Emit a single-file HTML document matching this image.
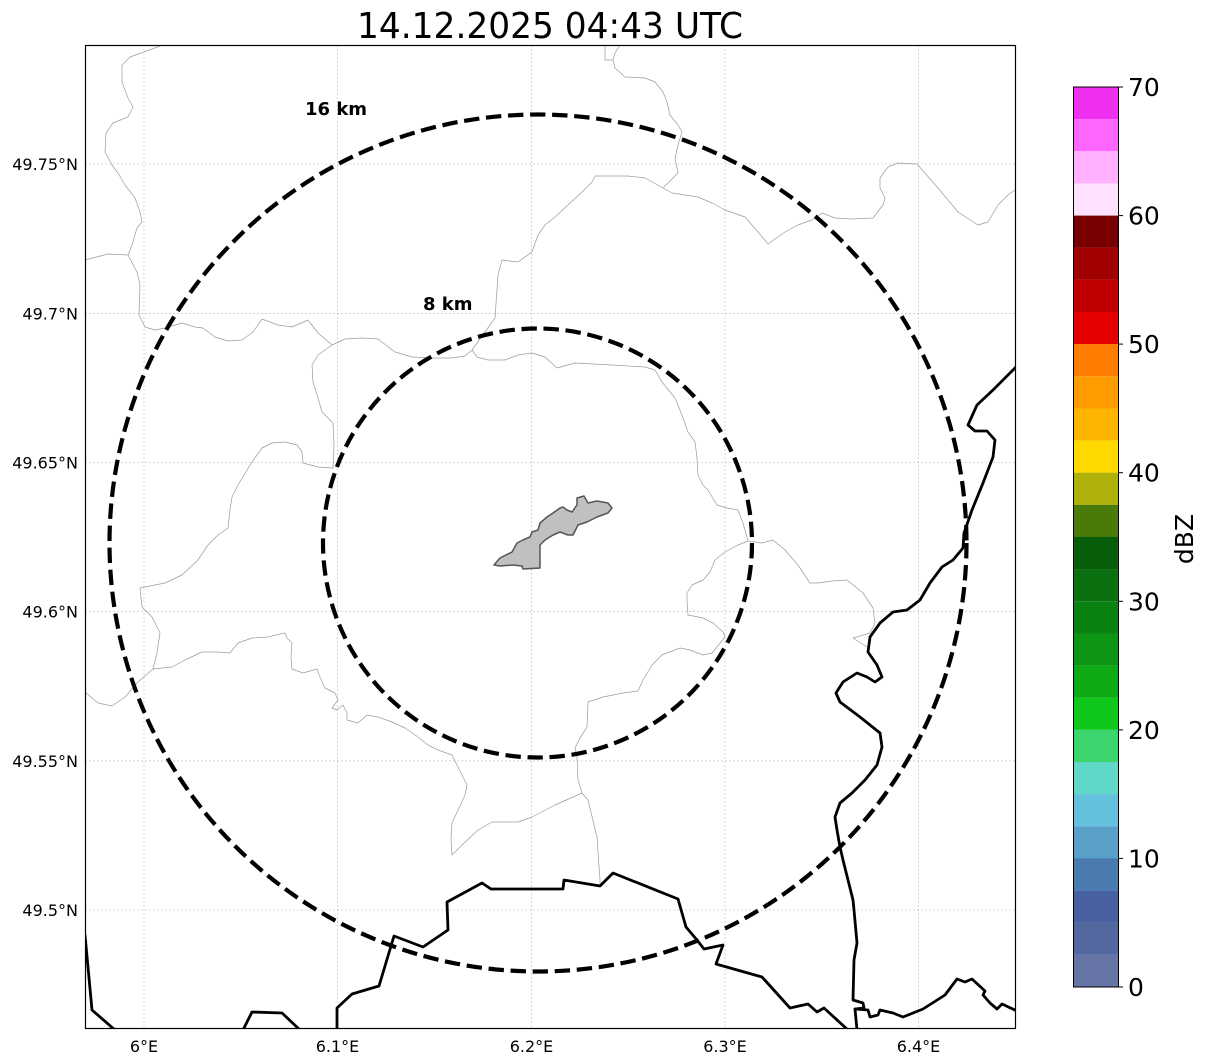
<!DOCTYPE html>
<html><head><meta charset="utf-8"><style>
html,body{margin:0;padding:0;background:#fff;}
svg{display:block;}
text{font-family:"DejaVu Sans","Liberation Sans",sans-serif;fill:#000;}
</style></head><body>
<svg width="1207" height="1064" viewBox="0 0 1207 1064" xmlns="http://www.w3.org/2000/svg">
<defs><clipPath id="ax"><rect x="85" y="45" width="930" height="983"/></clipPath></defs>
<rect width="1207" height="1064" fill="#fff"/>
<g clip-path="url(#ax)">
<g stroke="#b8b8b8" stroke-width="0.6" stroke-dasharray="2,2" fill="none">
<line x1="144" y1="45" x2="144" y2="1028"/><line x1="337.5" y1="45" x2="337.5" y2="1028"/><line x1="531.5" y1="45" x2="531.5" y2="1028"/><line x1="725" y1="45" x2="725" y2="1028"/><line x1="918.5" y1="45" x2="918.5" y2="1028"/>
<line x1="85" y1="164" x2="1015" y2="164"/><line x1="85" y1="313.3" x2="1015" y2="313.3"/><line x1="85" y1="462.5" x2="1015" y2="462.5"/><line x1="85" y1="611.7" x2="1015" y2="611.7"/><line x1="85" y1="760.9" x2="1015" y2="760.9"/><line x1="85" y1="910" x2="1015" y2="910"/>
</g>
<g stroke="#9a9a9a" stroke-width="0.7" fill="none" stroke-linejoin="round">
<polyline points="163,45 130,57 122,65 122,82 128,98 133,107 128,117 113,123 106,133 105,152 112,165 118,173 125,185 135,198 140,212 142,222 137,228 132,245 128,255 137,272 140,285 139,315 145,327 155,330 165,328 182,323 195,327 203,328 215,337 228,341 242,340 253,332 262,319 278,325 292,327 308,320 318,333 332,345"/>
<polyline points="85,260 108,254 128,255"/>
<polyline points="332,345 345,339 362,338 378,339 395,352 412,357 432,358 452,358 465,356 472,350 495,318 498,275 502,260 518,262 532,252 538,235 545,225 555,217 568,205 582,192 592,182 595,176 628,176 645,178 663,188"/>
<polyline points="663,188 678,173 675,158 678,145 682,132 678,125 670,115 667,102 663,92 655,82 645,78 625,77 615,68 613,60 615,53 620,45"/>
<polyline points="605,45 605,60 613,60"/>
<polyline points="663,188 672,193 698,197 712,203 725,210 745,217 758,232 768,244 785,232 798,225 812,220 822,213 835,218 852,219 873,218 883,205 885,198 880,188 880,178 888,167 898,163 917,164 938,188 958,212 978,225 988,222 998,205 1008,195 1015,190"/>
<polyline points="472,350 477,357 488,360 505,360 518,355 532,353 545,357 557,368 575,363 612,365 645,367 655,370 662,382 675,398 682,415 688,432 695,442 697,458 698,475 703,485 708,490 717,505 727,508 738,510 743,523 748,541"/>
<polyline points="332,345 318,355 312,365 313,382 318,398 322,412 333,423 334,445 333,468 318,467 303,463 302,452 297,445 285,442 272,443 262,448 252,462 238,485 232,497 230,510 228,528 218,535 208,545 198,560 182,575 165,583 140,588 142,607 152,617 160,633 157,653 153,669"/>
<polyline points="153,669 138,682 125,697 112,706 98,703 85,692"/>
<polyline points="153,669 172,667 185,660 202,652 218,652 230,653 238,643 252,638 268,637 280,634 285,633 287,638 292,643 291,657 292,669 303,673 317,669 320,677 325,688 335,693 338,700 332,708 337,710 343,705 347,713 347,720 358,723 367,715 378,717 392,722 405,728 418,737 428,745 438,750 452,755 458,767 467,785 465,795 458,810 452,823 451,838 452,855 462,845 478,830 492,822 518,822 532,817 555,805 582,793 588,800 597,837 600,880 600,886"/>
<polyline points="582,793 578,780 577,757 575,748 580,738 587,727 588,702 603,697 623,693 638,691 643,680 652,665 662,655 680,648 690,650 703,655 712,653 725,637 723,632 713,623 703,618 688,615 687,600 687,593 692,585 703,580 710,572 715,560 725,552 738,545 748,541 762,543 773,540 785,550 798,565 810,583 818,583 832,581 847,580 863,593 873,608 875,623 870,633 853,638 867,647"/>
</g>
<g stroke="#000" stroke-width="2.8" fill="none" stroke-linejoin="round" stroke-linecap="round">
<polyline points="85,935 92,1010 115,1030"/>
<polyline points="243,1030 252,1012 282,1013 300,1030"/>
<polyline points="337,1030 337,1008 352,994 379,986 394,936 423,947 448,930 447,902 482,883 491,889 563,889 564,880 600,886 613,873 678,899 686,927 697,940 704,949 723,945 716,964 762,977 790,1008 808,1004 817,1012 824,1008 848,1030"/>
<polyline points="1017,366 1005,378 993,390 977,405 968,425 975,431 987,431 995,440 993,457 983,483 972,510 964,533 963,548 953,560 942,567 930,583 920,600 907,610 893,612 880,623 870,637 868,652 877,665 882,677 875,682 867,677 857,673 843,682 836,693 840,702 860,717 880,733 882,747 877,765 865,780 852,793 840,803 835,817 837,830 840,847 843,860 853,900 854,910 857,943 854,960 853,1000 863,1003 864,1008 855,1009 857,1030"/>
<polyline points="855,1009 868,1010 870,1017 878,1015 880,1010 893,1013 903,1017 913,1013 923,1009 945,995 957,979 965,982 972,979 985,991 983,995 990,1003 997,1009 1002,1004 1017,1011"/>
</g>
<polygon points="494,565 500,558 512,552 517,543 523,540 530,537 532,532 538,530 540,523 547,517 553,513 560,508 563,507 567,510 572,512 577,505 577,498 584,496 588,503 597,501 608,503 612,508 608,513 597,517 587,522 578,525 573,535 568,535 560,532 553,535 545,540 540,545 540,568 523,569 522,566 513,565 500,566" fill="#c0c0c0" stroke="#555" stroke-width="1.5" stroke-linejoin="round"/>
<circle cx="538" cy="543" r="428.5" fill="none" stroke="#000" stroke-width="4.2" stroke-dasharray="15.4,6.7"/>
<circle cx="537.5" cy="543" r="214.5" fill="none" stroke="#000" stroke-width="4.2" stroke-dasharray="15.4,6.7"/>
</g>
<rect x="85.5" y="45.5" width="930" height="983" fill="none" stroke="#000" stroke-width="1.2"/>
<text x="305" y="115" font-size="18" font-weight="bold">16 km</text>
<text x="423" y="310" font-size="18" font-weight="bold">8 km</text>
<text x="550" y="38" font-size="36" text-anchor="middle" textLength="386" lengthAdjust="spacingAndGlyphs">14.12.2025 04:43 UTC</text>
<g font-size="16" text-anchor="end">
<text x="78" y="170">49.75°N</text>
<text x="78" y="319.3">49.7°N</text>
<text x="78" y="468.5">49.65°N</text>
<text x="78" y="617.7">49.6°N</text>
<text x="78" y="766.9">49.55°N</text>
<text x="78" y="916">49.5°N</text>
</g>
<g font-size="16" text-anchor="middle">
<text x="144" y="1052">6°E</text>
<text x="337.5" y="1052">6.1°E</text>
<text x="531.5" y="1052">6.2°E</text>
<text x="725" y="1052">6.3°E</text>
<text x="918.5" y="1052">6.4°E</text>
</g>
<g>
<rect x="1073" y="87" width="45" height="32.2" fill="#f030f0"/>
<rect x="1073" y="119.1" width="45" height="32.2" fill="#ff66ff"/>
<rect x="1073" y="151.3" width="45" height="32.2" fill="#ffb0ff"/>
<rect x="1073" y="183.4" width="45" height="32.2" fill="#ffe0ff"/>
<rect x="1073" y="215.6" width="45" height="32.2" fill="#780000"/>
<rect x="1073" y="247.7" width="45" height="32.2" fill="#a00000"/>
<rect x="1073" y="279.9" width="45" height="32.2" fill="#c00000"/>
<rect x="1073" y="312" width="45" height="32.2" fill="#e40000"/>
<rect x="1073" y="344.1" width="45" height="32.2" fill="#ff7c00"/>
<rect x="1073" y="376.3" width="45" height="32.2" fill="#ff9c00"/>
<rect x="1073" y="408.4" width="45" height="32.2" fill="#ffb400"/>
<rect x="1073" y="440.6" width="45" height="32.2" fill="#ffd800"/>
<rect x="1073" y="472.7" width="45" height="32.2" fill="#b0b00a"/>
<rect x="1073" y="504.9" width="45" height="32.2" fill="#4a7a0a"/>
<rect x="1073" y="537" width="45" height="32.2" fill="#065e0a"/>
<rect x="1073" y="569.1" width="45" height="32.2" fill="#0a7010"/>
<rect x="1073" y="601.3" width="45" height="32.2" fill="#0a8212"/>
<rect x="1073" y="633.4" width="45" height="32.2" fill="#0c9614"/>
<rect x="1073" y="665.6" width="45" height="32.2" fill="#0eaa16"/>
<rect x="1073" y="697.7" width="45" height="32.2" fill="#10c81a"/>
<rect x="1073" y="729.9" width="45" height="32.2" fill="#3cd46c"/>
<rect x="1073" y="762" width="45" height="32.2" fill="#60d8c8"/>
<rect x="1073" y="794.1" width="45" height="32.2" fill="#64c0dc"/>
<rect x="1073" y="826.3" width="45" height="32.2" fill="#58a0c8"/>
<rect x="1073" y="858.4" width="45" height="32.2" fill="#4a7ab0"/>
<rect x="1073" y="890.6" width="45" height="32.2" fill="#4660a0"/>
<rect x="1073" y="922.7" width="45" height="32.2" fill="#5468a0"/>
<rect x="1073" y="954.9" width="45" height="32.1" fill="#6674a6"/>
<rect x="1073.5" y="87" width="45" height="900" fill="none" stroke="#000" stroke-width="1"/>
<g stroke="#000" stroke-width="1">
<line x1="1118" y1="87" x2="1123" y2="87"/><line x1="1118" y1="215.6" x2="1123" y2="215.6"/><line x1="1118" y1="344.1" x2="1123" y2="344.1"/><line x1="1118" y1="472.7" x2="1123" y2="472.7"/><line x1="1118" y1="601.3" x2="1123" y2="601.3"/><line x1="1118" y1="729.9" x2="1123" y2="729.9"/><line x1="1118" y1="858.4" x2="1123" y2="858.4"/><line x1="1118" y1="987" x2="1123" y2="987"/>
</g>
<g font-size="25">
<text x="1128" y="96">70</text>
<text x="1128" y="224.6">60</text>
<text x="1128" y="353.1">50</text>
<text x="1128" y="481.7">40</text>
<text x="1128" y="610.3">30</text>
<text x="1128" y="738.9">20</text>
<text x="1128" y="867.4">10</text>
<text x="1128" y="996">0</text>
</g>
<text x="0" y="0" font-size="25" text-anchor="middle" transform="translate(1193,539) rotate(-90)">dBZ</text>
</g>
</svg>
</body></html>
